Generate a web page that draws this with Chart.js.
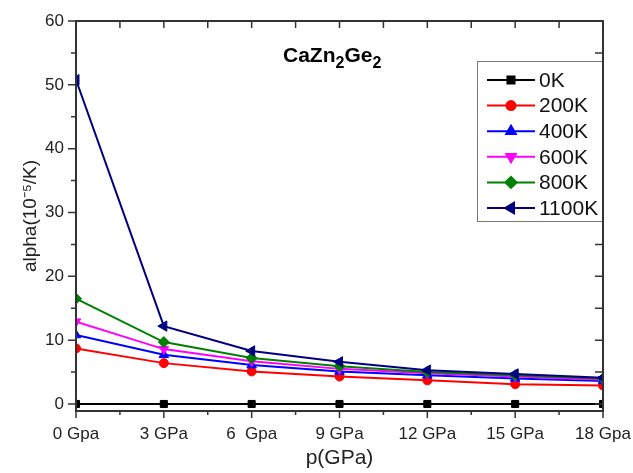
<!DOCTYPE html>
<html>
<head>
<meta charset="utf-8">
<script src="https://cdn.jsdelivr.net/npm/chart.js@4.4.1/dist/chart.umd.min.js"></script>
<style>
  html, body { margin: 0; padding: 0; background: #fff; }
  #wrap { width: 633px; height: 473px; position: relative; }
</style>
</head>
<body>
<div id="wrap"><canvas id="alpha_canvas"></canvas></div>
<script>
// pressure categories (x axis)
var pressures = ['0 Gpa', '3 GPa', '6  Gpa', '9 GPa', '12 GPa', '15 GPa', '18 Gpa'];
var yTicks = [0, 10, 20, 30, 40, 50, 60];

// thermal expansion alpha (10^-5/K) per temperature
var t0K    = [0, 0, 0, 0, 0, 0, 0];
var t200K  = [8.7, 6.4, 5.1, 4.3, 3.7, 3.1, 2.9];
var t400K  = [10.8, 7.7, 6.1, 5.1, 4.5, 4.0, 3.6];
var t600K  = [12.9, 8.6, 6.7, 5.5, 4.8, 4.3, 3.8];
var t800K  = [16.5, 9.7, 7.2, 5.9, 5.0, 4.5, 4.0];
var t1100K = [50.8, 12.2, 8.3, 6.6, 5.3, 4.7, 4.1];

var FONT = "'Liberation Sans', Arial, sans-serif";
var AXIS = '#333333';

function series(label, data, color, style, radius, rot) {
    return {
        label: label,
        data: data,
        borderColor: color,
        backgroundColor: color,
        pointBackgroundColor: color,
        pointBorderColor: color,
        pointStyle: style,
        pointRadius: radius,
        pointRotation: rot,
        pointBorderWidth: 1,
        borderWidth: 2,
        fill: false,
        tension: 0,
        clip: 0
    };
}

var datasets = [
    series('0K', t0K, '#000000', 'rect', 5, 0),
    series('200K', t200K, '#ff0000', 'circle', 4.5, 0),
    series('400K', t400K, '#0000ff', 'triangle', 5.5, 0),
    series('600K', t600K, '#ff00ff', 'triangle', 5.5, 180),
    series('800K', t800K, '#008000', 'rectRot', 5.5, 0),
    series('1100K', t1100K, '#000080', 'triangle', 6, -90)
];
for (var i = 0; i < datasets.length; i++) {
    datasets[i].order = datasets.length - i;
}

// frame, tick marks, title and legend drawn on top
var decor = {
    id: 'decor',
    afterDraw: function(chart) {
        var ctx = chart.ctx;
        var a = chart.chartArea;
        var xs = chart.scales.x, ys = chart.scales.y;
        ctx.save();
        ctx.strokeStyle = AXIS;
        ctx.lineWidth = 2;
        ctx.strokeRect(a.left, a.top, a.right - a.left, a.bottom - a.top);
        ctx.lineWidth = 1.5;
        ctx.beginPath();
        // x ticks: major at categories, minor halfway
        for (var i = 0; i < pressures.length; i++) {
            var px = xs.getPixelForValue(i);
            ctx.moveTo(px, a.bottom); ctx.lineTo(px, a.bottom + 7);
            ctx.moveTo(px, a.top); ctx.lineTo(px, a.top + 7);
            if (i < pressures.length - 1) {
                var mx = (px + xs.getPixelForValue(i + 1)) / 2;
                ctx.moveTo(mx, a.bottom); ctx.lineTo(mx, a.bottom + 4);
                ctx.moveTo(mx, a.top); ctx.lineTo(mx, a.top + 7);
            }
        }
        // y ticks every 5
        for (var v = 0; v <= 60; v += 5) {
            var py = ys.getPixelForValue(v);
            var len = (v % 10 === 0) ? 8 : 5;
            ctx.moveTo(a.left - len, py); ctx.lineTo(a.left, py);
            ctx.moveTo(a.right - 8, py); ctx.lineTo(a.right, py);
        }
        ctx.stroke();

        // title CaZn2Ge2 with subscripts
        var x = 283, base = 62;
        var parts = [['CaZn', 0], ['2', 1], ['Ge', 0], ['2', 1]];
        ctx.fillStyle = '#000';
        ctx.textBaseline = 'alphabetic';
        ctx.textAlign = 'left';
        for (var p = 0; p < parts.length; p++) {
            ctx.font = 'bold ' + (parts[p][1] ? 16 : 21) + 'px ' + FONT;
            ctx.fillText(parts[p][0], x, base + (parts[p][1] ? 6 : 0));
            x += ctx.measureText(parts[p][0]).width;
        }

        // legend box
        var lx = 477, ly = 61, lw = a.right - lx, lh = 160;
        ctx.fillStyle = '#fff';
        ctx.fillRect(lx, ly, lw, lh);
        ctx.strokeStyle = '#777';
        ctx.lineWidth = 1;
        ctx.strokeRect(lx + 0.5, ly + 0.5, lw, lh);
        ctx.font = '21px ' + FONT;
        ctx.textBaseline = 'middle';
        chart.data.datasets.forEach(function(ds, k) {
            var cy = 80 + k * 25.6;
            ctx.strokeStyle = ds.borderColor;
            ctx.lineWidth = 2;
            ctx.beginPath();
            ctx.moveTo(487, cy); ctx.lineTo(535, cy);
            ctx.stroke();
            ctx.fillStyle = ds.backgroundColor;
            Chart.helpers.drawPoint(ctx, {
                pointStyle: ds.pointStyle, radius: ds.pointRadius,
                rotation: ds.pointRotation, borderWidth: 1
            }, 511, cy);
            ctx.fillStyle = '#111';
            ctx.fillText(ds.label, 539, cy + 1);
        });
        // right axis over the legend edge
        ctx.strokeStyle = AXIS;
        ctx.lineWidth = 2;
        ctx.beginPath();
        ctx.moveTo(a.right, ly); ctx.lineTo(a.right, ly + lh + 1);
        ctx.stroke();
        ctx.restore();
    }
};

var ctx1 = document.getElementById('alpha_canvas');
var chart = new Chart(ctx1, {
    type: 'line',
    data: { labels: pressures, datasets: datasets },
    options: {
        responsive: true,
        maintainAspectRatio: false,
        animation: false,
        layout: { padding: { top: 21, right: 30, left: 0, bottom: 0 } },
        plugins: {
            legend: { display: false },
            tooltip: { enabled: false }
        },
        scales: {
            x: {
                type: 'category',
                offset: false,
                grid: { display: false, drawTicks: false },
                border: { display: false },
                ticks: {
                    color: '#222', padding: 13, maxRotation: 0, autoSkip: false,
                    font: { family: FONT, size: 17 }
                },
                title: {
                    display: true, text: 'p(GPa)', color: '#222',
                    font: { family: FONT, size: 21 },
                    padding: { top: 0, bottom: 2 }
                },
                afterFit: function(s) {
                    s.height = 62;
                    s.paddingLeft = 0;
                    s.paddingRight = 0;
                }
            },
            y: {
                min: -1.1,
                max: 60,
                grid: { display: false, drawTicks: false },
                border: { display: false },
                afterBuildTicks: function(s) {
                    s.ticks = yTicks.map(function(v) { return { value: v }; });
                },
                ticks: {
                    color: '#222', padding: 12,
                    font: { family: FONT, size: 17 }
                },
                title: {
                    display: true, text: 'alpha(10\u207B\u2075/K)', color: '#222',
                    font: { family: FONT, size: 19 },
                    padding: { top: 19, bottom: 0 }
                },
                afterFit: function(s) {
                    s.width = 76;
                    s.paddingTop = 0;
                    s.paddingBottom = 0;
                }
            }
        }
    },
    plugins: [decor]
});
</script>
</body>
</html>
